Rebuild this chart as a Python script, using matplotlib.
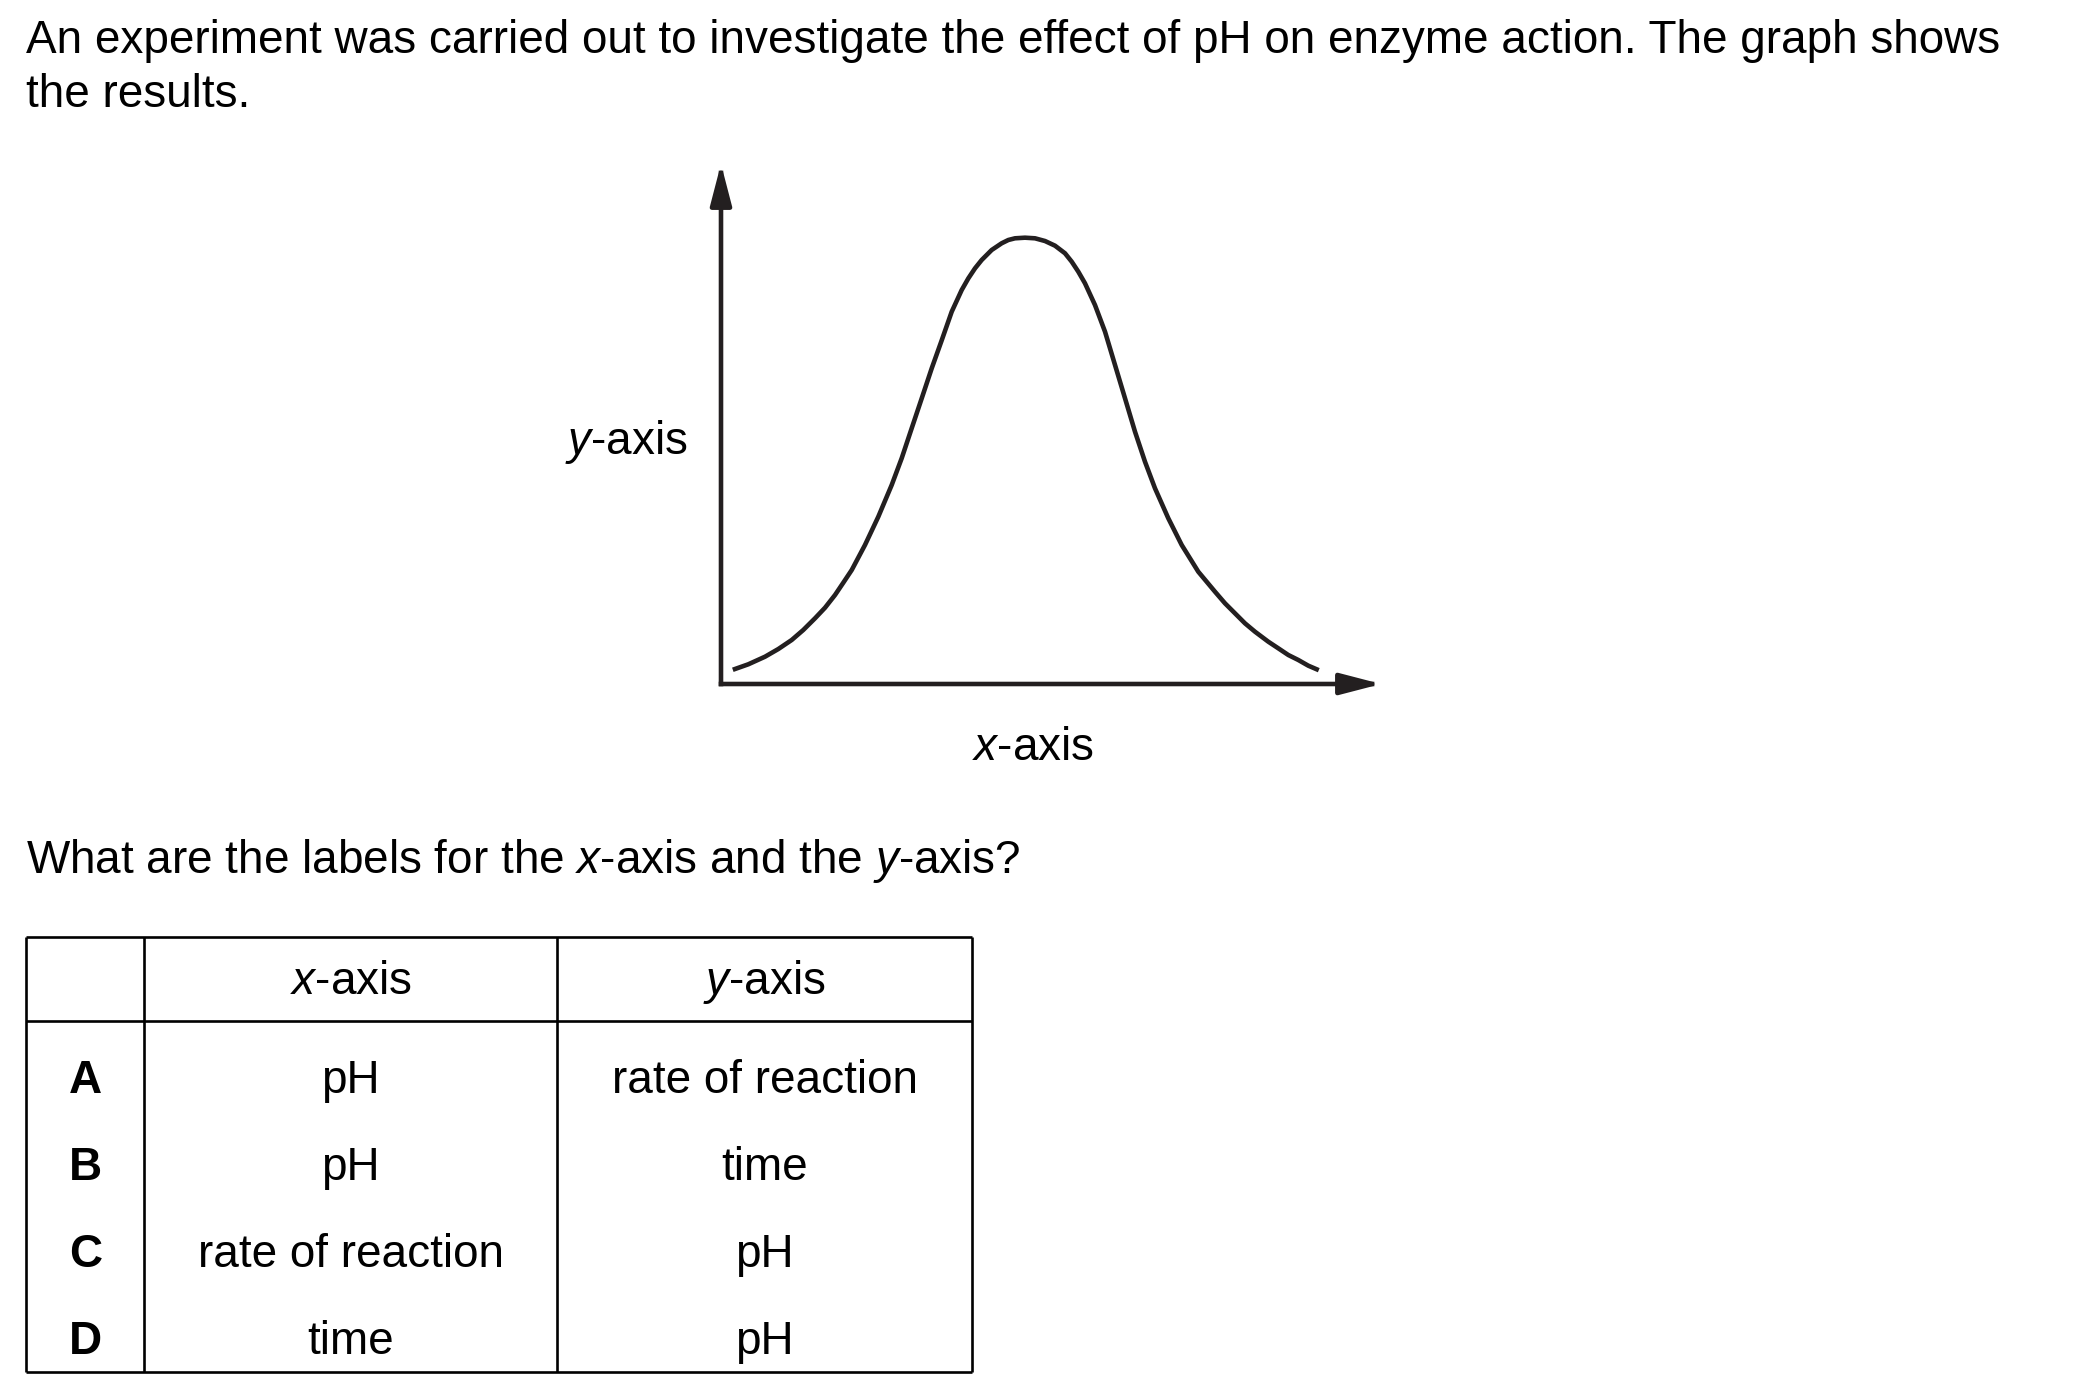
import numpy as np
import matplotlib.pyplot as plt

plt.rcParams['font.family'] = ['Liberation Sans', 'DejaVu Sans']
plt.rcParams['mathtext.fontset'] = 'custom'
plt.rcParams['mathtext.rm'] = 'Liberation Sans'
plt.rcParams['mathtext.it'] = 'Liberation Sans:italic'
plt.rcParams['mathtext.bf'] = 'Liberation Sans:bold'

W, H = 2100, 1388
ink = '#231f20'

# curve, arbitrary units (0-100 along each axis)
x_vals = [2.14, 4.18, 6.74, 8.78, 10.83, 12.60, 14.40, 15.93, 17.46, 18.73,
          20.02, 22.05, 24.09, 26.14, 27.67, 29.20, 30.74, 32.27, 33.80, 35.33,
          36.86, 37.88, 38.90, 39.92, 41.45, 42.98, 44.00, 45.02, 46.55, 48.09,
          49.62, 51.15, 52.68, 53.71, 54.72, 55.74, 57.27, 58.81, 60.34, 61.87,
          63.40, 64.93, 66.46, 68.50, 70.55, 73.09, 75.65, 77.18, 78.71, 80.24,
          81.78, 83.81, 85.34, 86.88, 88.41, 89.94, 91.22]
y_vals = [2.92, 3.84, 5.32, 6.82, 8.58, 10.53, 12.81, 14.87, 17.35, 19.75,
          22.22, 27.10, 32.61, 38.79, 44.00, 49.84, 55.69, 61.54, 67.00, 72.57,
          76.80, 79.08, 81.03, 82.65, 84.60, 85.91, 86.55, 86.88, 87.00, 86.88,
          86.35, 85.44, 83.96, 82.32, 80.37, 78.11, 73.88, 68.67, 62.18, 55.69,
          49.18, 43.33, 38.15, 32.30, 27.10, 21.89, 17.99, 15.73, 13.78, 11.83,
          10.19, 8.25, 6.96, 5.65, 4.68, 3.57, 2.87]

intro = ['An experiment was carried out to investigate the effect of pH on enzyme action. The graph shows',
         'the results.']
question = 'What are the labels for the $x$-axis and the $y$-axis?'
header = ['', '$x$-axis', '$y$-axis']
options = ['A', 'B', 'C', 'D']
x_labels = ['pH', 'pH', 'rate of reaction', 'time']
y_labels = ['rate of reaction', 'time', 'pH', 'pH']

fs = 33

fig = plt.figure(figsize=(21, 13.88), dpi=100)
page = fig.add_axes([0, 0, 1, 1])
page.set_xlim(0, W)
page.set_ylim(H, 0)
page.axis('off')

page.text(26, 53, intro[0], fontsize=fs, va='baseline')
page.text(26, 107, intro[1], fontsize=fs, va='baseline')
page.text(26, 873, question, fontsize=fs, va='baseline')

# the sketch graph
ox, oy, ex, ey = 721, 684, 1374, 171
g = fig.add_axes([ox / W, 1 - oy / H, (ex - ox) / W, (oy - ey) / H])
g.set_xlim(0, 100)
g.set_ylim(0, 100)
g.axis('off')
g.plot(x_vals, y_vals, color=ink, lw=3.3, solid_joinstyle='round', clip_on=False)
arr = dict(arrowstyle='-|>,head_length=2.5,head_width=0.65', color=ink, lw=3.3,
           shrinkA=0, shrinkB=0, mutation_scale=10, capstyle='projecting')
g.annotate('', xy=(0, 101.4), xytext=(0, 0), arrowprops=arr, annotation_clip=False)
g.annotate('', xy=(101.1, 0), xytext=(0, 0), arrowprops=arr, annotation_clip=False)
page.text(688, 454, '$y$-axis', fontsize=fs, ha='right', va='baseline')
page.text(1033, 760, '$x$-axis', fontsize=fs, ha='center', va='baseline')

# answer table
col_x = [26, 144.3, 557, 972]
row_y = [936.7, 1021.3, 1372]
lw_t = 1.9
page.hlines(row_y, col_x[0], col_x[-1], color='black', lw=lw_t)
page.vlines(col_x, row_y[0], row_y[-1], color='black', lw=lw_t)
centers = [(col_x[i] + col_x[i + 1]) / 2 for i in range(3)]
for c, t in zip(centers, header):
    page.text(c, 994, t, fontsize=fs, ha='center', va='baseline')
for i, (o, xl, yl) in enumerate(zip(options, x_labels, y_labels)):
    yb = 1092.7 + 87 * i
    page.text(centers[0], yb, o, fontsize=fs, ha='center', va='baseline', fontweight='bold')
    page.text(centers[1], yb, xl, fontsize=fs, ha='center', va='baseline')
    page.text(centers[2], yb, yl, fontsize=fs, ha='center', va='baseline')

fig.savefig('out.png', dpi=100, facecolor='white')
